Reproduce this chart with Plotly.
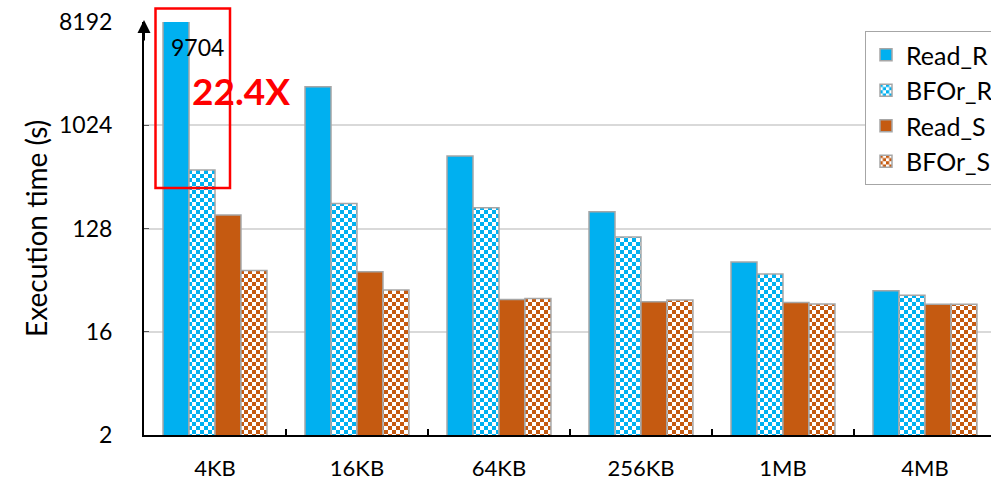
import math
import plotly.graph_objects as go

# ---- data ----
categories = ["4KB", "16KB", "64KB", "256KB", "1MB", "4MB"]
read_rand = [9704, 2227, 551, 179, 65.3, 36.5]
bfor_rand = [416, 212, 194, 108, 51.3, 33.4]
read_seq = [168, 53.6, 30.7, 29.3, 28.9, 27.9]
bfor_seq = [55, 37, 31.3, 30.3, 28.0, 27.9]
series_names = ["Read_R", "BFOr_R", "Read_S", "BFOr_S"]
y_tickvals = [2, 16, 128, 1024, 8192]
label_value = 9704
speedup_text = "22.4X"

BLUE = "#00B0F0"
ORANGE = "#C55A11"
EDGE = "#A6A6A6"
FONT = "Lato"

S = 8
checker_path = f"M0,0H{S/2}V{S/2}H0Z M{S/2},{S/2}H{S}V{S}H{S/2}Z"


def pattern(color):
    try:
        p = go.bar.marker.Pattern(path=checker_path, size=S, fgcolor=color,
                                  bgcolor="white", fillmode="replace")
    except Exception:
        p = go.bar.marker.Pattern(shape="x", size=6, solidity=0.5, fgcolor=color,
                                  bgcolor="white", fillmode="replace")
    return p


series = [
    (series_names[0], read_rand, BLUE, False),
    (series_names[1], bfor_rand, BLUE, True),
    (series_names[2], read_seq, ORANGE, False),
    (series_names[3], bfor_seq, ORANGE, True),
]

fig = go.Figure()
for i, (name, vals, col, patt) in enumerate(series):
    marker = dict(color=col, line=dict(color=EDGE, width=1.5))
    if patt:
        marker["pattern"] = pattern(col)
    fig.add_trace(go.Bar(x=categories, y=vals, name=name, marker=marker,
                         legendgroup=f"g{i}"))

W, H = 991, 485
L, R, T, B = 144, 0, 22, 50
pw, ph = W - L - R, H - T - B


def px(x):
    return (x - L) / pw


def py(y):
    return (H - B - y) / ph


fig.update_layout(
    width=W, height=H,
    margin=dict(l=L, r=R, t=T, b=B, autoexpand=False),
    paper_bgcolor="white", plot_bgcolor="white",
    font=dict(family=FONT, size=22, color="black"),
    barmode="group", bargap=0.268, bargroupgap=0,
    showlegend=True,
    legend=dict(x=px(865), y=py(31), xanchor="left", yanchor="top",
                bordercolor=EDGE, borderwidth=1, bgcolor="white",
                font=dict(family=FONT, size=25, color="black"),
                traceorder="grouped", tracegroupgap=0),
    xaxis=dict(type="category", range=[-0.5, 5.465], showline=True,
               linecolor="black", linewidth=2, ticks="inside",
               tickson="boundaries", ticklen=6, tickcolor="black", tickwidth=2,
               tickfont=dict(family=FONT, size=22, color="black"),
               ticklabelstandoff=13, showgrid=False, fixedrange=True),
    yaxis=dict(type="log", range=[math.log10(2), math.log10(8192)],
               tickvals=y_tickvals, ticktext=[str(v) for v in y_tickvals],
               showgrid=True, gridcolor="#D9D9D9", gridwidth=1.5,
               showline=True, linecolor="black", linewidth=2,
               ticks="inside", ticklen=5, tickcolor="#595959",
               tickfont=dict(family=FONT, size=23, color="black"),
               ticklabelstandoff=25, zeroline=False),
)

# y-axis arrow at the top
fig.add_annotation(xref="paper", yref="paper", x=0, y=1.005, ax=0, ay=22,
                   text="", showarrow=True, arrowhead=2, arrowsize=1.3,
                   arrowwidth=2, arrowcolor="black")

# y-axis title
fig.add_annotation(xref="paper", yref="paper", x=px(36), y=py(229),
                   xanchor="center", yanchor="middle",
                   text="Execution time (s)", showarrow=False, textangle=-90,
                   font=dict(family=FONT, size=28, color="black"))

# red highlight box + labels
fig.add_shape(type="rect", xref="paper", yref="paper",
              x0=px(155.5), x1=px(230), y0=py(188), y1=py(8.5),
              line=dict(color="#FF0000", width=2.5), fillcolor="rgba(0,0,0,0)")
fig.add_annotation(xref="paper", yref="paper", x=px(197), y=py(47),
                   xanchor="center", yanchor="middle",
                   text=str(label_value), showarrow=False,
                   font=dict(family=FONT, size=23, color="black"))
fig.add_annotation(xref="paper", yref="paper", x=px(241), y=py(91),
                   xanchor="center", yanchor="middle",
                   text=f"<b>{speedup_text}</b>", showarrow=False,
                   font=dict(family=FONT, size=37, color="#FF0000"))

fig.write_html("out.html", config={"displayModeBar": False},
               post_script="document.body.style.margin='0';")
